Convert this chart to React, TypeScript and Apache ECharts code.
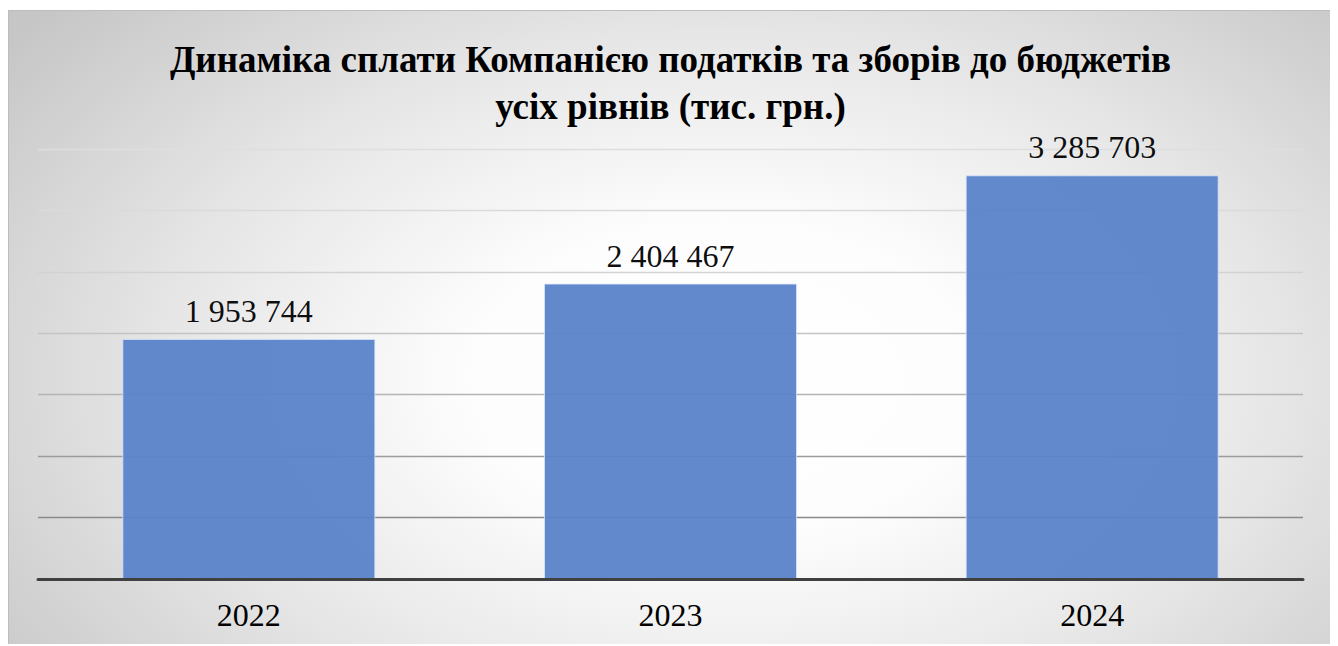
import React, { useEffect, useRef } from "react";
import * as echarts from "echarts";

const categories = ["2022", "2023", "2024"];
const values = [1953744, 2404467, 3285703];
const titleText = "Динаміка сплати Компанією податків та зборів до бюджетів\nусіх рівнів (тис. грн.)";
const gridColors = ["#404040", "#8a8a8a", "#9c9c9c", "#b4b4b4", "#c4c4c4", "#d2d2d2", "#dadada", "#dedede"];

const fmt = (v: number) => String(v).replace(/\B(?=(\d{3})+(?!\d))/g, " ");

export default function App() {
  const ref = useRef<HTMLDivElement>(null);
  useEffect(() => {
    if (!ref.current) return;
    const chart = echarts.init(ref.current, undefined, { renderer: "svg" });
    const serif = "Liberation Serif";
    chart.setOption({
      animation: false,
      backgroundColor: "transparent",
      title: {
        text: titleText,
        left: "center",
        top: 20,
        textStyle: {
          fontFamily: serif,
          fontWeight: "bold",
          fontSize: 37,
          lineHeight: 47,
          color: "#000",
        },
      },
      grid: { left: 29, right: 29, top: 138, bottom: 66 },
      xAxis: {
        type: "category",
        data: categories,
        axisLine: { show: true, lineStyle: { color: "#404040", width: 3 } },
        axisTick: { show: false },
        axisLabel: { fontFamily: serif, fontSize: 32, color: "#000", margin: 20 },
        z: 5,
      },
      yAxis: {
        type: "value",
        min: 0,
        max: 3500000,
        interval: 500000,
        axisLabel: { show: false },
        axisLine: { show: false },
        axisTick: { show: false },
        splitLine: { show: true, lineStyle: { color: gridColors, width: 1.3 } },
      },
      series: [
        {
          type: "bar",
          data: values,
          barWidth: "60%",
          itemStyle: {
            color: "#5a83c8",
            opacity: 0.95,
            borderColor: "rgba(220,230,250,0.8)",
            borderWidth: 1,
          },
          label: {
            show: true,
            position: "top",
            distance: 12,
            fontFamily: serif,
            fontSize: 32,
            color: "#000",
            formatter: (p: any) => fmt(p.value),
          },
        },
      ],
    });
    return () => chart.dispose();
  }, []);
  return (
    <div
      style={{
        position: "relative",
        top: 2,
        width: 1325,
        height: 636,
        border: "1px solid #bdbdbd",
        boxSizing: "border-box",
        background:
          "radial-gradient(ellipse 68% 88% at 54% 58%, #ffffff 0%, #fdfdfd 28%, #e6e6e6 62%, #c6c6c6 100%)",
      }}
    >
      <div ref={ref} style={{ width: 1323, height: 634 }} />
    </div>
  );
}
